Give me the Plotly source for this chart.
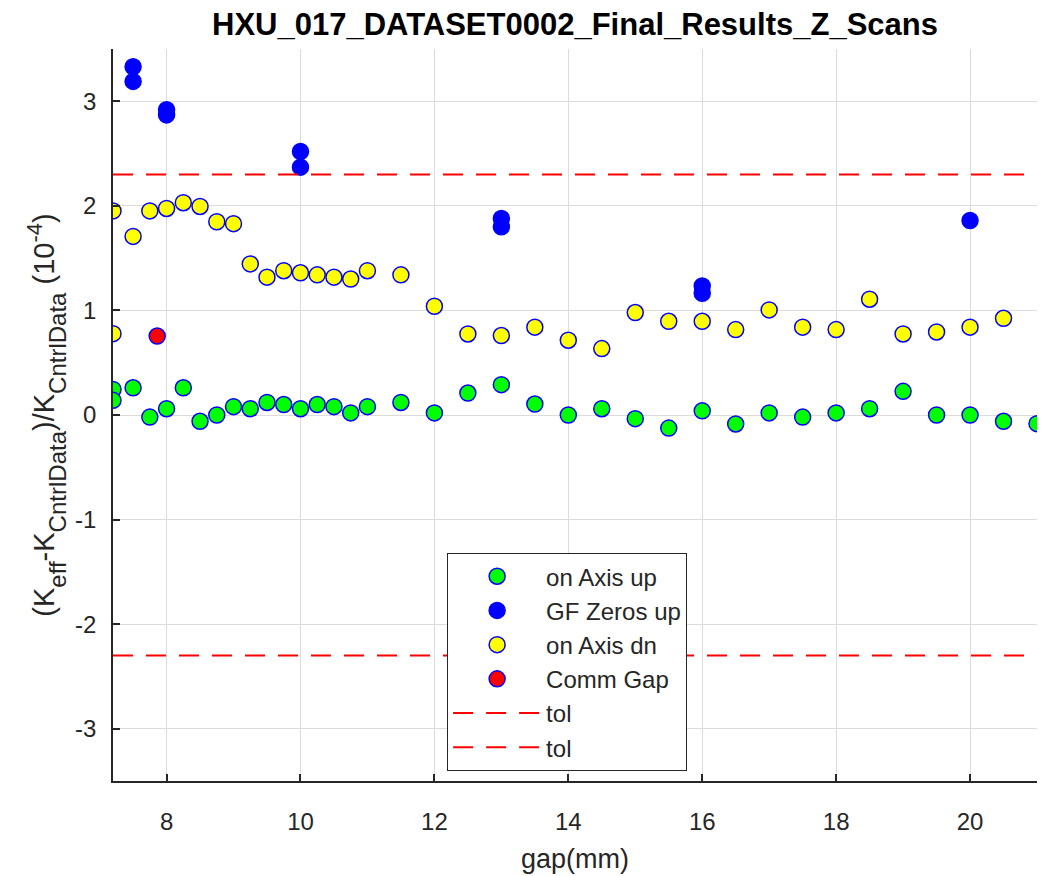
import plotly.graph_objects as go

# Gap positions (mm) and relative K deviations (units of 1e-4)
gap_on_up = [7.2, 7.2, 7.5, 7.75, 8, 8.25, 8.5, 8.75, 9, 9.25, 9.5, 9.75, 10, 10.25,
             10.5, 10.75, 11, 11.5, 12, 12.5, 13, 13.5, 14, 14.5, 15, 15.5, 16, 16.5,
             17, 17.5, 18, 18.5, 19, 19.5, 20, 20.5, 21]
dk_on_up = [0.245, 0.14, 0.26, -0.02, 0.06, 0.26, -0.06, 0.0, 0.08, 0.06, 0.12, 0.10,
            0.06, 0.10, 0.08, 0.02, 0.08, 0.12, 0.02, 0.21, 0.29, 0.105, 0.0, 0.06,
            -0.035, -0.125, 0.04, -0.086, 0.02, -0.02, 0.02, 0.06, 0.226, 0.0, 0.0,
            -0.06, -0.083]

gap_gf_up = [7.5, 7.5, 8, 8, 10, 10, 13, 13, 16, 16, 20]
dk_gf_up = [3.33, 3.19, 2.92, 2.87, 2.52, 2.37, 1.88, 1.80, 1.234, 1.164, 1.86]

gap_on_dn = [7.2, 7.2, 7.5, 7.75, 8, 8.25, 8.5, 8.75, 9, 9.25, 9.5, 9.75, 10, 10.25,
             10.5, 10.75, 11, 11.5, 12, 12.5, 13, 13.5, 14, 14.5, 15, 15.5, 16, 16.5,
             17, 17.5, 18, 18.5, 19, 19.5, 20, 20.5]
dk_on_dn = [1.952, 0.778, 1.708, 1.952, 1.975, 2.03, 1.994, 1.848, 1.83, 1.445, 1.318,
            1.38, 1.36, 1.34, 1.318, 1.30, 1.38, 1.34, 1.04, 0.775, 0.76, 0.84, 0.715,
            0.635, 0.98, 0.896, 0.896, 0.817, 1.005, 0.84, 0.817, 1.107, 0.775, 0.794,
            0.84, 0.925]

gap_comm = [7.86]
dk_comm = [0.755]

tol = 2.3
x_limits = [7.2, 21]
y_limits = [-3.5, 3.5]
x_ticks = [8, 10, 12, 14, 16, 18, 20]
y_ticks = [-3, -2, -1, 0, 1, 2, 3]

FONT = "Liberation Sans, Arial, Helvetica, sans-serif"
AX = "#262626"
MS = 16

fig = go.Figure()

def dots(x, y, name, fill):
    fig.add_trace(go.Scatter(
        x=x, y=y, mode="markers", name=name,
        marker=dict(size=MS, color=fill, line=dict(color="#0000ff", width=1.5)),
    ))

dots(gap_on_up, dk_on_up, "on Axis up", "#00ff00")
dots(gap_gf_up, dk_gf_up, "GF Zeros up", "#0000ff")
dots(gap_on_dn, dk_on_dn, "on Axis dn", "#ffff00")
dots(gap_comm, dk_comm, "Comm Gap", "#ff0000")

for level in (tol, -tol):
    fig.add_trace(go.Scatter(
        x=x_limits, y=[level, level], mode="lines", name="tol",
        line=dict(color="#ff0000", width=2, dash="20px,13px"),
    ))

def sub(s):
    return f"<sub><span style='font-size:24px;baseline-shift:-6px'>{s}</span></sub>"

def sup(s):
    return f"<sup><span style='font-size:22px'>{s}</span></sup>"

y_title = f"(K{sub('eff')}-K{sub('CntrlData')})/K{sub('CntrlData')} (10{sup('-4')})"

fig.update_layout(
    width=1049, height=876,
    margin=dict(l=113, r=12, t=49, b=95),
    paper_bgcolor="white", plot_bgcolor="white",
    font=dict(family=FONT, color=AX),
    title=dict(
        text="<b>HXU_017_DATASET0002_Final_Results_Z_Scans</b>",
        font=dict(family=FONT, size=31, color="black"),
        x=0.5, xref="paper", xanchor="center",
        y=1 - 24 / 876, yref="container", yanchor="middle",
    ),
    showlegend=True,
    legend=dict(
        x=0.3616, y=0.3113, xanchor="left", yanchor="top",
        bgcolor="white", bordercolor=AX, borderwidth=1,
        font=dict(family=FONT, size=24, color=AX),
        itemwidth=88,
        tracegroupgap=0,
    ),
)

fig.update_xaxes(
    range=x_limits, tickvals=x_ticks, ticktext=[str(v) for v in x_ticks],
    showline=True, linecolor=AX, linewidth=1.5, mirror=False,
    ticks="inside", ticklen=7, tickwidth=1.5, tickcolor=AX,
    tickfont=dict(family=FONT, size=24, color=AX),
    ticklabelstandoff=18,
    showgrid=True, gridcolor="#dcdcdc", gridwidth=1, zeroline=False,
    title=dict(text="gap(mm)", font=dict(family=FONT, size=27, color=AX), standoff=16),
    automargin=False,
)
fig.update_yaxes(
    range=y_limits, tickvals=y_ticks, ticktext=[str(v) for v in y_ticks],
    showline=True, linecolor=AX, linewidth=1.5, mirror=False,
    ticks="inside", ticklen=7, tickwidth=1.5, tickcolor=AX,
    tickfont=dict(family=FONT, size=24, color=AX),
    ticklabelstandoff=10,
    showgrid=True, gridcolor="#dcdcdc", gridwidth=1, zeroline=False,
    title=dict(text=y_title, font=dict(family=FONT, size=29, color=AX), standoff=12),
    automargin=False,
)

fig.write_html("out.html")
